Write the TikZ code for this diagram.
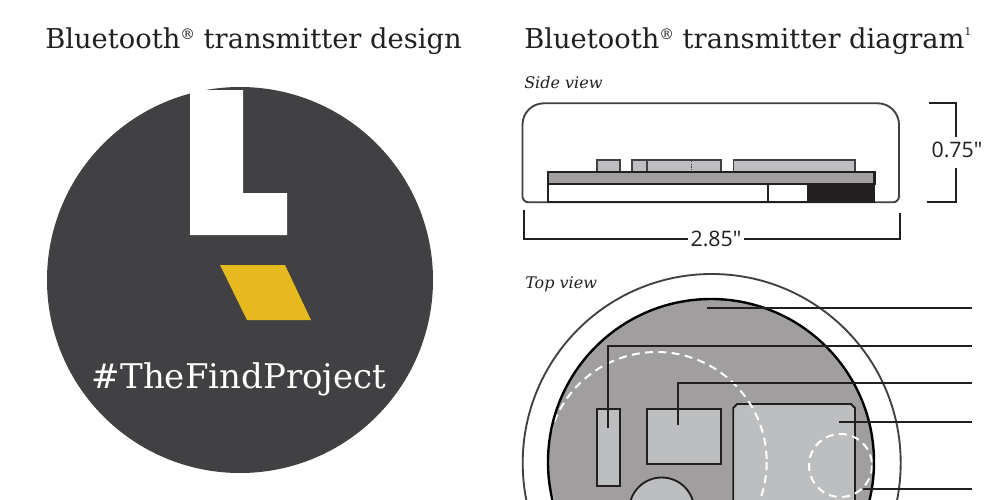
\documentclass[tikz,border=0pt]{standalone}
\usepackage{fontspec}
\setmainfont{DejaVu Serif}
\newfontfamily\dimfont{Open Sans}
\definecolor{ink}{HTML}{231F20}
\definecolor{slate}{HTML}{414042}
\definecolor{board}{HTML}{A09E9E}
\definecolor{chip}{HTML}{BCBEC0}
\definecolor{gold}{HTML}{E6B91E}
\newcommand{\regmark}{\raisebox{0.62ex}{\fontsize{11}{12}\selectfont ®}}
\newcommand{\noteone}{\raisebox{0.85ex}{\fontsize{8}{9}\selectfont 1}}
\tikzset{
  titletext/.style={font=\fontsize{20.5}{24}\selectfont,text=ink,inner sep=0,anchor=base west},
  viewtext/.style={font=\fontsize{12}{14}\selectfont\itshape,text=ink,inner sep=0,anchor=base west},
  dimtext/.style={font=\dimfont\fontsize{16}{19}\selectfont,text=ink,inner sep=0,anchor=base},
  partbox/.style={draw=ink,fill=chip,line width=1.4pt},
  sidechip/.style={draw=slate,fill=chip,line width=1.2pt},
  leader/.style={draw=ink,line width=1.3pt},
  dimline/.style={draw=ink,line width=1.4pt},
  whitedash/.style={draw=white,line width=1.5pt,dash pattern=on 6pt off 4pt}
}
\begin{document}
\begin{tikzpicture}[x=0.75pt,y=-0.75pt]
\clip (0,0) rectangle (1000,500);
\fill[white] (0,0) rectangle (1000,500);
% titles
\node[titletext] (t1) at (45,48) {Bluetooth\regmark{} transmitter design};
\node[titletext] (t2) at (524,48) {Bluetooth\regmark{} transmitter diagram\noteone};
% left badge
\fill[slate] (240,280) circle (193);
\fill[white] (190,90) -- (243,90) -- (243,193) -- (287,193) -- (287,235) -- (190,235) -- cycle;
\fill[gold] (220,265) -- (285,265) -- (311,320) -- (247,320) -- cycle;
\node[font=\fontsize{25.5}{30}\selectfont,text=white,inner sep=0,anchor=base] (tag) at (239,388) {\#TheFindProject};
% side view
\node[viewtext] (sv) at (524,88) {Side view};
\draw[sidechip] (596.7,172) rectangle (620,160);
\draw[sidechip] (631.7,172) rectangle (646.7,160);
\draw[sidechip] (646.7,172) rectangle (720.7,160);
\draw[sidechip] (733.3,172) rectangle (855,160);
\draw[draw=slate,line width=0.9pt,dash pattern=on 1pt off 1pt] (691.7,161) -- (691.7,171);
\draw[draw=slate,line width=1.4pt,rounded corners=16pt] (522.5,170) -- (522.5,103.3) -- (899,103.3) -- (899,170);
\draw[draw=slate,line width=1.4pt,rounded corners=4.5pt] (522.5,170) -- (522.5,202.3) -- (899,202.3) -- (899,170);
\fill[ink] (807,184) rectangle (875,203);
\draw[draw=ink,line width=1.5pt] (547.7,184) rectangle (768,202.3);
\draw[draw=ink,line width=1.5pt] (768,202.3) -- (807,202.3);
\draw[draw=ink,fill=board,line width=1.8pt] (547.7,172) rectangle (874.5,184);
% side dimensions
\coordinate (wa) at (524,209.5);
\coordinate (wb) at (524,239);
\coordinate (wc) at (900,212.5);
\coordinate (wd) at (900,239);
\coordinate (ha) at (929,103.3);
\coordinate (hb) at (956,103.3);
\coordinate (hc) at (926.7,202.3);
\coordinate (hd) at (956,202.3);
\node[dimtext] (w) at (716,246) {2.85"};
\node[dimtext] (h) at (957,157) {0.75"};
\draw[dimline] (wa) -- (wb) -- ([xshift=-2pt]w.west |- wb);
\draw[dimline] (wc) -- (wd) -- ([xshift=2pt]w.east |- wd);
\draw[dimline] (ha) -- (hb) -- (hb |- 0,137);
\draw[dimline] (hc) -- (hd) -- (hd |- 0,168);
% top view
\node[viewtext] (tv) at (525,288) {Top view};
\draw[draw=slate,line width=1.4pt] (711.7,463) circle (189);
\fill[board] (711,462) circle (163);
\draw[partbox] (596.7,409) rectangle (619.7,485.7);
\draw[partbox] (646.7,409) rectangle (720.7,464);
\draw[partbox] (661.7,510) circle (32.5);
\draw[partbox] (733.3,520) -- (733.3,408) -- (737.3,404) -- (851,404) -- (855,408) -- (855,520);
\begin{scope}
\clip (711,462) circle (163);
\draw[whitedash] (656.7,462) circle (110);
\draw[whitedash] (840.5,465.5) circle (31.5);
\end{scope}
\draw[draw=black,line width=1.8pt] (711,462) circle (163);
% leaders
\coordinate (l1a) at (706.7,307.7);
\coordinate (l1b) at (972,307.7);
\coordinate (l2a) at (608,428);
\coordinate (l2c) at (608,345.7);
\coordinate (l2b) at (972,345.7);
\coordinate (l3a) at (678.3,425);
\coordinate (l3c) at (678.3,383.3);
\coordinate (l3b) at (972,383.3);
\coordinate (l4a) at (839.3,422);
\coordinate (l4b) at (972,422);
\coordinate (l5a) at (863.3,489.3);
\coordinate (l5b) at (972,489.3);
\draw[leader] (l1a) -- (l1b);
\draw[leader] (l2a) -- (l2c) -- (l2b);
\draw[leader] (l3a) -- (l3c) -- (l3b);
\draw[leader] (l4a) -- (l4b);
\draw[leader] (l5a) -- (l5b);
\end{tikzpicture}
\end{document}
